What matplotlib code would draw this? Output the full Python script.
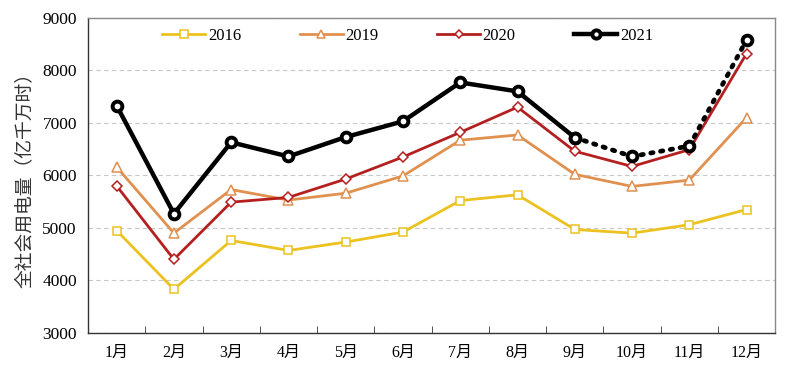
import matplotlib
matplotlib.use("Agg")
import matplotlib.pyplot as plt

plt.rcParams['font.family'] = ['Liberation Serif', 'Noto Sans CJK SC', 'DejaVu Sans']

# Data (monthly electricity consumption, 100 million kWh)
months = ['1月', '2月', '3月', '4月', '5月', '6月', '7月', '8月', '9月', '10月', '11月', '12月']
y2016 = [4950, 3830, 4760, 4570, 4730, 4920, 5520, 5630, 4970, 4900, 5060, 5350]
y2019 = [6160, 4900, 5730, 5530, 5660, 5990, 6670, 6770, 6020, 5790, 5910, 7100]
y2020 = [5800, 4400, 5490, 5580, 5930, 6350, 6820, 7300, 6460, 6170, 6490, 8320]
y2021 = [7330, 5270, 6630, 6360, 6730, 7030, 7770, 7600, 6720, 6360, 6560, 8580]
n_actual = 9  # 2021 solid up to Sep, dotted after

x = list(range(len(months)))

fig = plt.figure(figsize=(8, 3.65), dpi=100)
ax = fig.add_axes([0.11, 0.088, 0.859, 0.863])

ax.plot(x, y2016, color='#EBC21F', lw=2, marker='s', ms=6, mfc='white', mec='#EBC21F', mew=1.1, label='2016')
ax.plot(x, y2019, color='#E0904F', lw=2, marker='^', ms=6.5, mfc='white', mec='#E0904F', mew=1.1, label='2019')
ax.plot(x, y2020, color='#B3201F', lw=2, marker='D', ms=5, mfc='white', mec='#B3201F', mew=1.1, label='2020')
ax.plot(x[:n_actual], y2021[:n_actual], color='black', lw=3.2, marker='o', ms=7, mfc='white', mec='black', mew=2.8, label='2021')
ax.plot(x[n_actual - 1:], y2021[n_actual - 1:], color='black', lw=3.4, ls=(0, (0.5, 1.6)), dash_capstyle='round',
        marker='o', ms=7, mfc='white', mec='black', mew=2.8, zorder=3)

ax.set_xlim(-0.5, 11.5)
ax.set_ylim(3000, 9000)
ax.set_yticks(range(3000, 9001, 1000))
ax.set_xticks(x)
ax.set_xticklabels(months, fontsize=11.5)
ax.tick_params(axis='x', length=0, pad=9)
ax.set_xticks([i + 0.5 for i in range(11)], minor=True)
ax.tick_params(axis='x', which='minor', direction='in', length=5, color='#333333')
ax.tick_params(axis='y', length=0, labelsize=12.5, pad=8)
ax.grid(axis='y', color='#C8C8C8', ls=(0, (4, 3)), lw=0.8)

for s in ['left', 'bottom']:
    ax.spines[s].set_color('#333333')
    ax.spines[s].set_linewidth(1.0)
for s in ['top', 'right']:
    ax.spines[s].set_color('#888888')
    ax.spines[s].set_linewidth(1.0)

ax.set_ylabel('全社会用电量（亿千万时）', fontsize=13.5, color='#333333', labelpad=6)

ax.legend(loc='upper center', ncol=4, frameon=False, fontsize=12, handlelength=2.6,
          columnspacing=3.5, bbox_to_anchor=(0.465, 1.015), handletextpad=0.15, markerscale=0.85)

fig.savefig('out.png', dpi=100)
